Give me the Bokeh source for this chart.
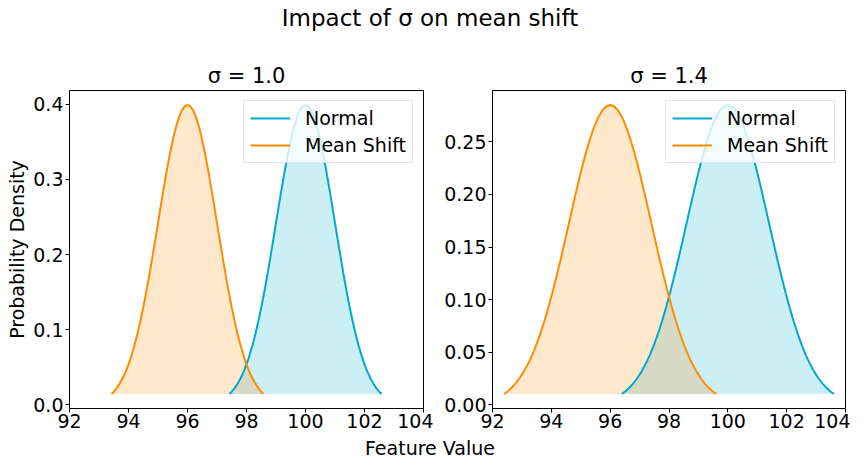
from bokeh.plotting import figure
from bokeh.layouts import column, row
from bokeh.models import Div, FixedTicker, PrintfTickFormatter, Legend, LegendItem, Range1d
from bokeh.embed import file_html
from bokeh.resources import INLINE

FONT = "DejaVu Sans"

# sigma = 1.0 panel
s1_normal_x = [97.424, 97.5, 97.6, 97.7, 97.8, 97.9, 98.0, 98.1, 98.2, 98.3, 98.4, 98.5, 98.6, 98.7, 98.8, 98.9,
               99.0, 99.1, 99.2, 99.3, 99.4, 99.5, 99.6, 99.7, 99.8, 99.9, 100.0, 100.1, 100.2, 100.3, 100.4,
               100.5, 100.6, 100.7, 100.8, 100.9, 101.0, 101.1, 101.2, 101.3, 101.4, 101.5, 101.6, 101.7, 101.8,
               101.9, 102.0, 102.1, 102.2, 102.3, 102.4, 102.5, 102.576]
s1_shift_x = [93.424, 93.5, 93.6, 93.7, 93.8, 93.9, 94.0, 94.1, 94.2, 94.3, 94.4, 94.5, 94.6, 94.7, 94.8, 94.9,
              95.0, 95.1, 95.2, 95.3, 95.4, 95.5, 95.6, 95.7, 95.8, 95.9, 96.0, 96.1, 96.2, 96.3, 96.4,
              96.5, 96.6, 96.7, 96.8, 96.9, 97.0, 97.1, 97.2, 97.3, 97.4, 97.5, 97.6, 97.7, 97.8,
              97.9, 98.0, 98.1, 98.2, 98.3, 98.4, 98.5, 98.576]
s1_y = [0.01446, 0.01753, 0.02239, 0.02833, 0.03547, 0.04398, 0.05399, 0.06562, 0.07895, 0.09405, 0.11092,
        0.12952, 0.14973, 0.17137, 0.19419, 0.21785, 0.24197, 0.26609, 0.28969, 0.31225, 0.33322, 0.35207,
        0.36827, 0.38139, 0.39104, 0.39695, 0.39894, 0.39695, 0.39104, 0.38139, 0.36827, 0.35207, 0.33322,
        0.31225, 0.28969, 0.26609, 0.24197, 0.21785, 0.19419, 0.17137, 0.14973, 0.12952, 0.11092, 0.09405,
        0.07895, 0.06562, 0.05399, 0.04398, 0.03547, 0.02833, 0.02239, 0.01753, 0.01446]

# sigma = 1.4 panel
s2_normal_x = [96.394, 96.5, 96.64, 96.78, 96.92, 97.06, 97.2, 97.34, 97.48, 97.62, 97.76, 97.9, 98.04, 98.18,
               98.32, 98.46, 98.6, 98.74, 98.88, 99.02, 99.16, 99.3, 99.44, 99.58, 99.72, 99.86, 100.0, 100.14,
               100.28, 100.42, 100.56, 100.7, 100.84, 100.98, 101.12, 101.26, 101.4, 101.54, 101.68, 101.82,
               101.96, 102.1, 102.24, 102.38, 102.52, 102.66, 102.8, 102.94, 103.08, 103.22, 103.36, 103.5, 103.606]
s2_shift_x = [92.394, 92.5, 92.64, 92.78, 92.92, 93.06, 93.2, 93.34, 93.48, 93.62, 93.76, 93.9, 94.04, 94.18,
              94.32, 94.46, 94.6, 94.74, 94.88, 95.02, 95.16, 95.3, 95.44, 95.58, 95.72, 95.86, 96.0, 96.14,
              96.28, 96.42, 96.56, 96.7, 96.84, 96.98, 97.12, 97.26, 97.4, 97.54, 97.68, 97.82,
              97.96, 98.1, 98.24, 98.38, 98.52, 98.66, 98.8, 98.94, 99.08, 99.22, 99.36, 99.5, 99.606]
s2_y = [0.01033, 0.01252, 0.01599, 0.02024, 0.02534, 0.03141, 0.03856, 0.04687, 0.05639, 0.06718, 0.07923,
        0.09251, 0.10695, 0.12241, 0.13871, 0.15561, 0.17284, 0.19006, 0.20692, 0.22304, 0.23801, 0.25148,
        0.26305, 0.27242, 0.27931, 0.28354, 0.28496, 0.28354, 0.27931, 0.27242, 0.26305, 0.25148, 0.23801,
        0.22304, 0.20692, 0.19006, 0.17284, 0.15561, 0.13871, 0.12241, 0.10695, 0.09251, 0.07923, 0.06718,
        0.05639, 0.04687, 0.03856, 0.03141, 0.02534, 0.02024, 0.01599, 0.01252, 0.01033]

x_ticks = [92, 94, 96, 98, 100, 102, 104]
s1_y_ticks = [0.0, 0.1, 0.2, 0.3, 0.4]
s2_y_ticks = [0.00, 0.05, 0.10, 0.15, 0.20, 0.25]

titles = ["\u03c3 = 1.0", "\u03c3 = 1.4"]
series_names = ["Normal", "Mean Shift"]
NORMAL_COLOR = "#00A9CE"
SHIFT_COLOR = "#FF8C00"


def make_panel(title, nx, sx, y, yticks, fmt, ylabel, left_border, right_border, fw, title_offset):
    ymin, ymax = min(y), max(y)
    pad = (ymax - ymin) * 0.05
    p = figure(frame_width=fw, frame_height=318, output_backend="svg", toolbar_location=None,
               x_range=Range1d(92, 104), y_range=Range1d(ymin - pad, ymax + pad),
               min_border_left=left_border, min_border_right=right_border, min_border_top=42,
               min_border_bottom=30, margin=0)
    p.title.text = title
    p.title.text_font = FONT
    p.title.text_font_size = "21px"
    p.title.text_font_style = "normal"
    p.title.text_color = "black"
    p.title.align = "center"
    p.title.standoff = 6
    p.title.offset = title_offset
    p.grid.visible = False
    p.outline_line_color = "black"
    p.outline_line_alpha = 1.0
    p.outline_line_width = 1

    p.varea(x=nx, y1=[min(y)] * len(nx), y2=y, fill_color=NORMAL_COLOR, fill_alpha=0.2)
    p.varea(x=sx, y1=[min(y)] * len(sx), y2=y, fill_color=SHIFT_COLOR, fill_alpha=0.2)
    r1 = p.line(nx, y, line_color=NORMAL_COLOR, line_width=2)
    r2 = p.line(sx, y, line_color=SHIFT_COLOR, line_width=2)

    for ax in (p.xaxis[0], p.yaxis[0]):
        ax.major_label_text_font = FONT
        ax.major_label_text_font_size = "19px"
        ax.major_label_text_color = "black"
        ax.axis_line_color = "black"
        ax.major_tick_line_color = "black"
        ax.major_tick_out = 4
        ax.major_tick_in = 0
        ax.minor_tick_line_color = None
    p.xaxis[0].major_label_standoff = 1
    p.yaxis[0].major_label_standoff = 2
    p.xaxis[0].ticker = FixedTicker(ticks=x_ticks)
    p.yaxis[0].ticker = FixedTicker(ticks=yticks)
    p.yaxis[0].formatter = PrintfTickFormatter(format=fmt)
    if ylabel:
        p.yaxis[0].axis_label = ylabel
        p.yaxis[0].axis_label_text_font = FONT
        p.yaxis[0].axis_label_text_font_size = "19px"
        p.yaxis[0].axis_label_text_font_style = "normal"
        p.yaxis[0].axis_label_text_color = "black"
        p.yaxis[0].axis_label_standoff = 2

    legend = Legend(items=[LegendItem(label=series_names[0], renderers=[r1]),
                           LegendItem(label=series_names[1], renderers=[r2])],
                    location="top_right")
    legend.label_text_font = FONT
    legend.label_text_font_size = "19px"
    legend.label_text_color = "black"
    legend.glyph_width = 40
    legend.glyph_height = 22
    legend.label_height = 22
    legend.label_standoff = 15
    legend.spacing = 5
    legend.padding = 6
    legend.margin = 10
    legend.border_line_color = "#cccccc"
    legend.background_fill_alpha = 0.8
    p.add_layout(legend)
    return p


p1 = make_panel(titles[0], s1_normal_x, s1_shift_x, s1_y, s1_y_ticks, "%.1f", "Probability Density", 69, 10, 354, 14)
p2 = make_panel(titles[1], s2_normal_x, s2_shift_x, s2_y, s2_y_ticks, "%.2f", None, 59, 5, 353, 0)

title_div = Div(text="Impact of \u03c3 on mean shift", width=860, height=48, margin=0,
                styles={"font-family": FONT, "font-size": "23px", "text-align": "center",
                        "line-height": "36px", "color": "black"})
xlabel_div = Div(text="Feature Value", width=860, height=22, margin=0,
                 styles={"font-family": FONT, "font-size": "19px", "text-align": "center",
                         "line-height": "20px", "color": "black"})

layout = column(title_div, row(p1, p2, spacing=0, margin=0), xlabel_div, spacing=0, margin=0)
open("out.html", "w").write(file_html(layout, INLINE))
